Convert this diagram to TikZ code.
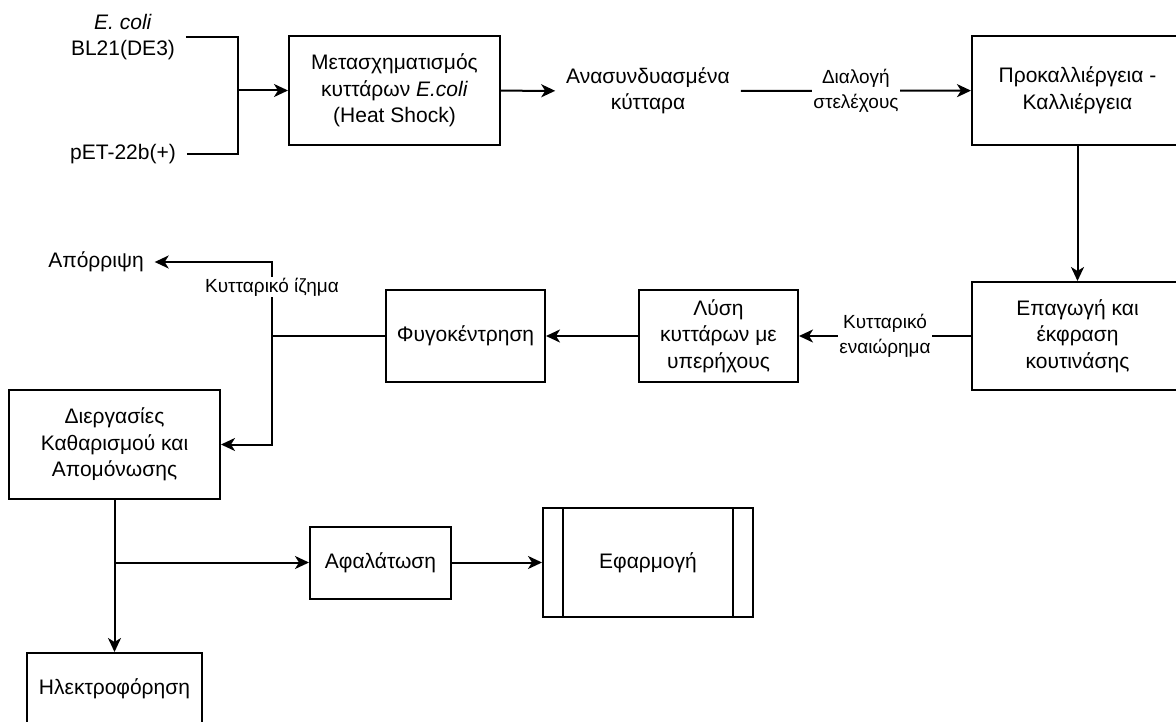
\documentclass[tikz,border=0pt]{standalone}
\usepackage{fontspec}
\setmainfont{Liberation Sans}
\usetikzlibrary{arrows.meta}

\begin{document}
\begin{tikzpicture}[x=1pt,y=-1pt,line width=2pt,
        >={Stealth[length=14pt,width=13pt,inset=4pt]},
        every node/.style={align=center,inner xsep=10pt,inner ysep=3pt,
                font=\fontsize{21}{26.5}\selectfont},
        lbl/.style={fill=white,inner sep=1pt,font=\fontsize{19}{24.5}\selectfont}]
        \useasboundingbox (0,0) rectangle (1176,722);
        \begin{scope}[every node/.style={draw,align=center,inner sep=0pt,
                        font=\fontsize{21}{26.5}\selectfont}]
            \node (trans) at (394.5,90.5) [minimum width=211pt,minimum height=109pt]
                {Μετασχηματισμός\\κυττάρων \textit{E.coli}\\(Heat Shock)};
            \node (culture) at (1077.5,90.5) [minimum width=211pt,minimum height=109pt]
                {Προκαλλιέργεια -\\Καλλιέργεια};
            \node (induce) at (1077.5,336) [minimum width=211pt,minimum height=108pt]
                {Επαγωγή και\\έκφραση\\κουτινάσης};
            \node (lysis) at (718.5,336) [minimum width=159pt,minimum height=91pt]
                {Λύση\\κυττάρων με\\υπερήχους};
            \node (centri) at (465.5,336) [minimum width=159pt,minimum height=91pt]
                {Φυγοκέντρηση};
            \node (purif) at (114.5,444.5) [minimum width=211pt,minimum height=109pt]
                {Διεργασίες\\Καθαρισμού και\\Απομόνωσης};
            \node (gel) at (114.5,689) [minimum width=175pt,minimum height=72pt]
                {Ηλεκτροφόρηση};
            \node (desalt) at (380.5,562.5) [minimum width=141pt,minimum height=72pt]
                {Αφαλάτωση};
            \node (apply) at (648,562.5) [minimum width=210pt,minimum height=109pt]
                {Εφαρμογή};
        \end{scope}
        \draw ([xshift=21pt]apply.north west) -- ([xshift=21pt]apply.south west);
        \draw ([xshift=-21pt]apply.north east) -- ([xshift=-21pt]apply.south east);

        \node (ecoli) at (123,37) {\textit{E. coli}\\BL21(DE3)};
        \node (pet) at (123,154) {pET-22b(+)};
        \node (recomb) at (648,91) {Ανασυνδυασμένα\\κύτταρα};
        \node (discard) at (96,262) {Απόρριψη};
        \coordinate (join) at (238,90.5);
        \coordinate (split) at (272,336);
        \coordinate (branch) at (114.5,562.5);

        \draw (ecoli) -| (join);
        \draw (pet) -| (join);
        \draw[->] (join) -- (trans);
        \draw[->] (trans) -- (recomb);
        \draw[->] (recomb) -- node[lbl] {Διαλογή\\στελέχους} (culture);
        \draw[->] (culture) -- (induce);
        \draw[->] (induce) -- node[lbl] {Κυτταρικό\\εναιώρημα} (lysis);
        \draw[->] (lysis) -- (centri);
        \draw (centri) -- (split);
        \draw[->] (split) |- node[lbl,pos=0.33] {Κυτταρικό ίζημα} (discard);
        \draw[->] (split) |- (purif);
        \draw[->] (purif) -- (gel);
        \draw[->] (branch) -- (desalt);
        \draw[->] (desalt) -- (apply);
    \end{tikzpicture}
\end{document}
